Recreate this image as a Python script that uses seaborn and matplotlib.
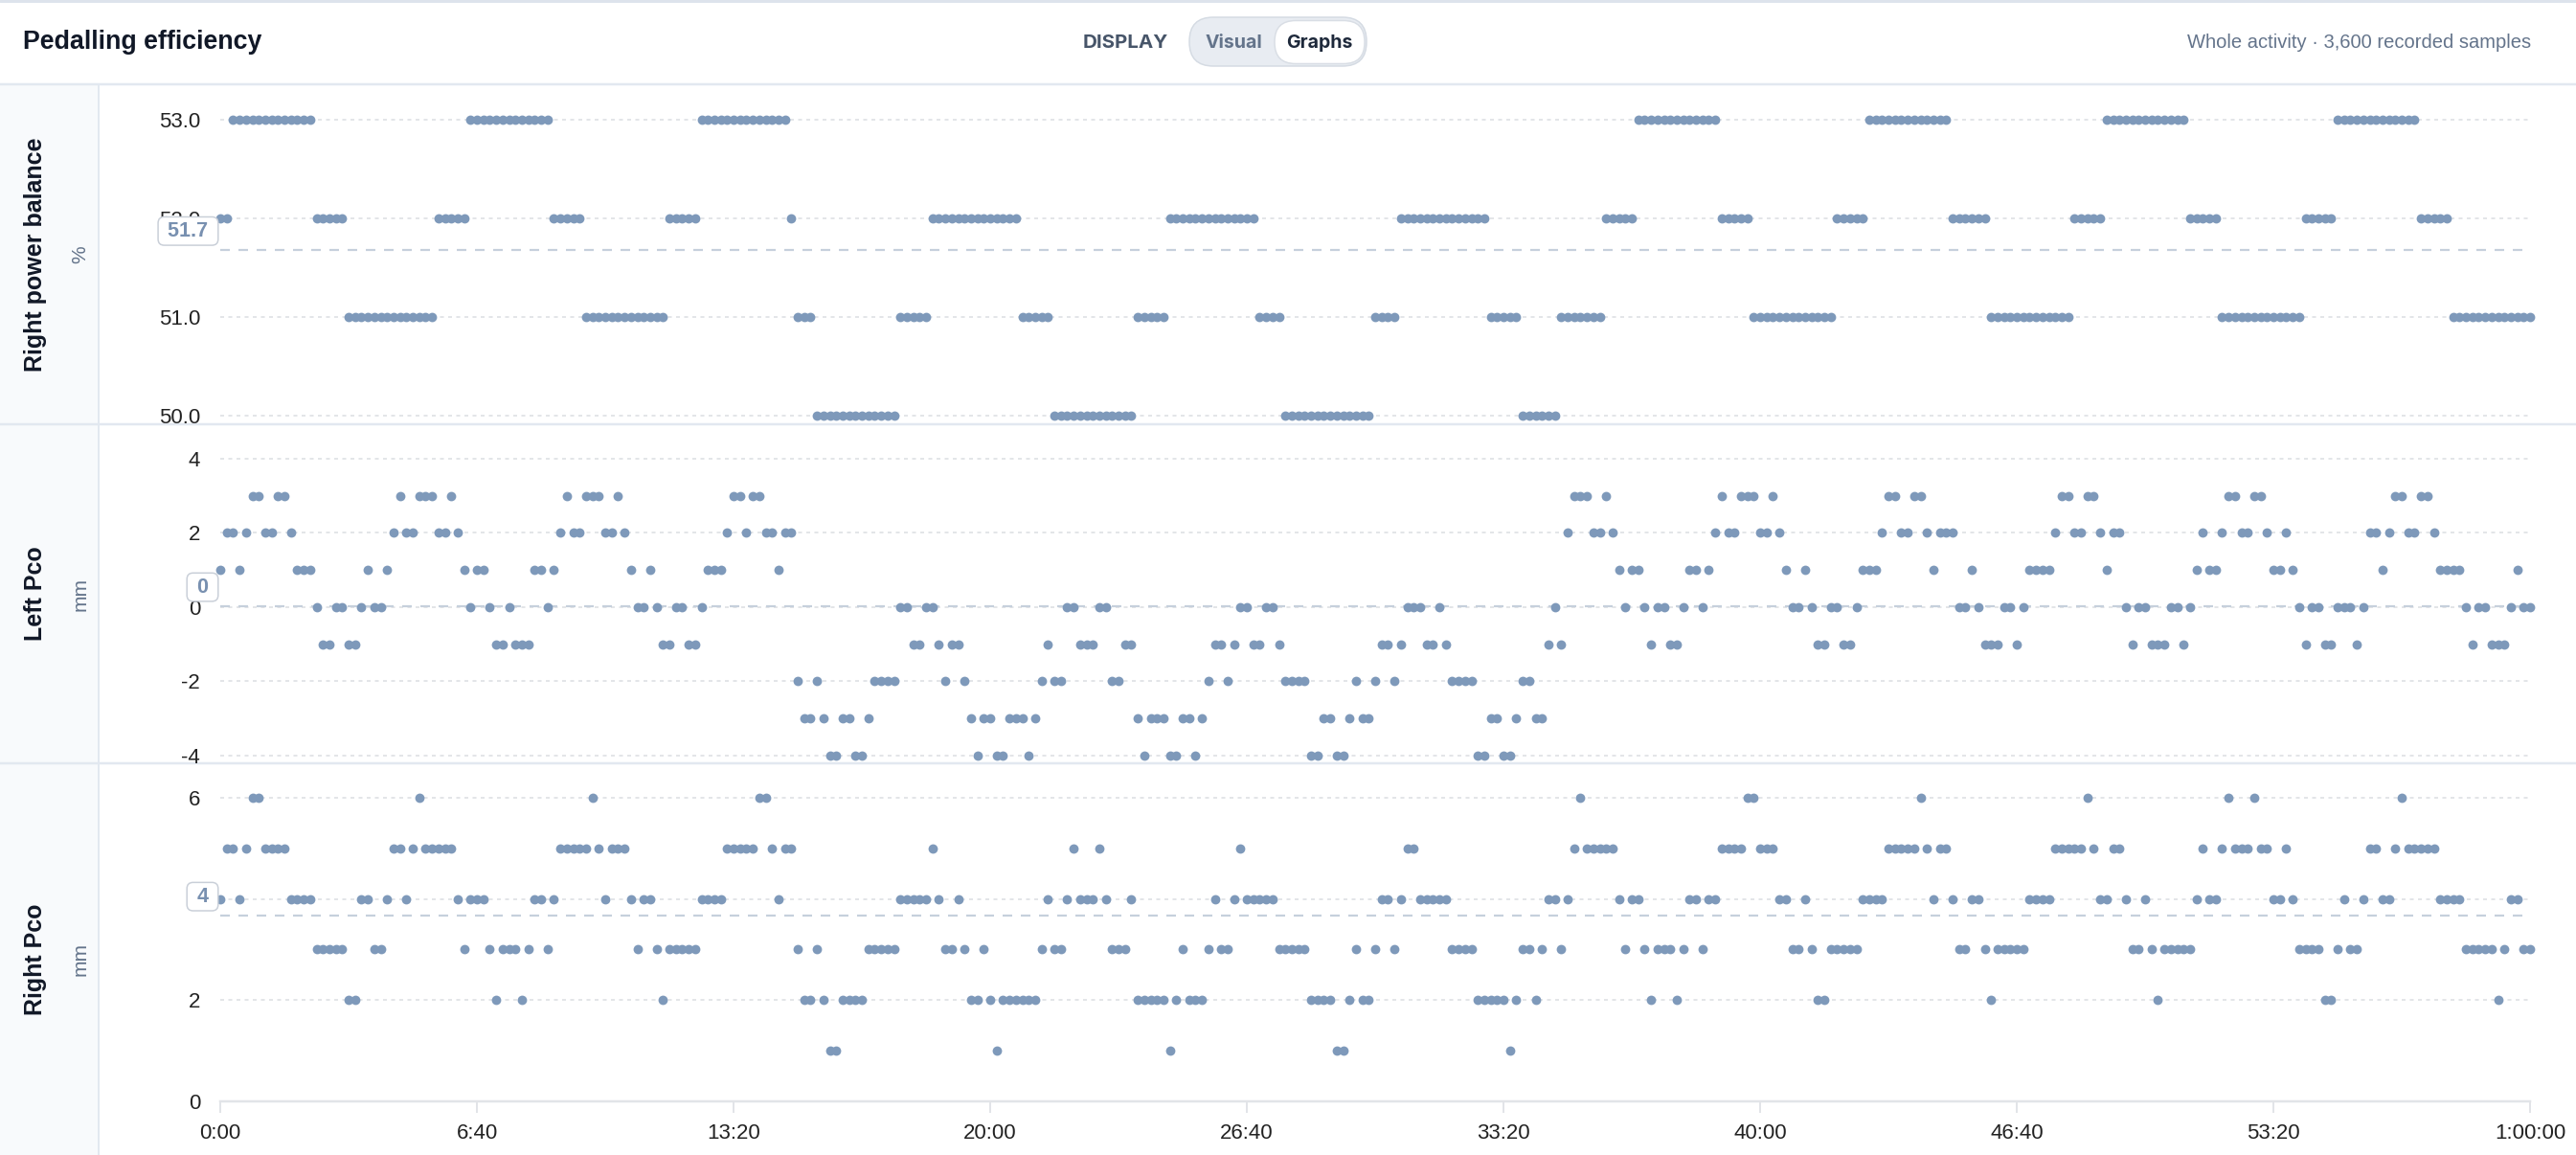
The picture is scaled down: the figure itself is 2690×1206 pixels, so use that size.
import numpy as np
import pandas as pd
import matplotlib
matplotlib.use("Agg")
import matplotlib.pyplot as plt
from matplotlib.patches import FancyBboxPatch, Rectangle
from matplotlib.transforms import blended_transform_factory
import seaborn as sns

# ---- data (one sample every 10 s, 0:00 .. 1:00:00) ----
SAMPLE_STEP_S = 10

# right power balance, stored as runs of equal values
balance_levels = [52, 53, 52, 51, 52, 53, 52, 51, 52, 53, 52, 51, 50, 51, 52, 51, 50, 51, 52, 51, 50,
                  51, 52, 51, 50, 51, 52, 53, 52, 51, 52, 53, 52, 51, 52, 53, 52, 51, 52, 53, 52, 51]
balance_runs = [2, 13, 5, 14, 5, 13, 5, 13, 5, 14, 1, 3, 13, 5, 14, 5, 13, 5, 14, 4, 14,
                4, 14, 5, 6, 7, 5, 13, 5, 13, 5, 13, 6, 13, 5, 13, 5, 13, 5, 13, 5, 13]

left_pco = [
    1, 2, 2, 1, 2, 3, 3, 2, 2, 3,
    3, 2, 1, 1, 1, 0, -1, -1, 0, 0,
    -1, -1, 0, 1, 0, 0, 1, 2, 3, 2,
    2, 3, 3, 3, 2, 2, 3, 2, 1, 0,
    1, 1, 0, -1, -1, 0, -1, -1, -1, 1,
    1, 0, 1, 2, 3, 2, 2, 3, 3, 3,
    2, 2, 3, 2, 1, 0, 0, 1, 0, -1,
    -1, 0, 0, -1, -1, 0, 1, 1, 1, 2,
    3, 3, 2, 3, 3, 2, 2, 1, 2, 2,
    -2, -3, -3, -2, -3, -4, -4, -3, -3, -4,
    -4, -3, -2, -2, -2, -2, 0, 0, -1, -1,
    0, 0, -1, -2, -1, -1, -2, -3, -4, -3,
    -3, -4, -4, -3, -3, -3, -4, -3, -2, -1,
    -2, -2, 0, 0, -1, -1, -1, 0, 0, -2,
    -2, -1, -1, -3, -4, -3, -3, -3, -4, -4,
    -3, -3, -4, -3, -2, -1, -1, -2, -1, 0,
    0, -1, -1, 0, 0, -1, -2, -2, -2, -2,
    -4, -4, -3, -3, -4, -4, -3, -2, -3, -3,
    -2, -1, -1, -2, -1, 0, 0, 0, -1, -1,
    0, -1, -2, -2, -2, -2, -4, -4, -3, -3,
    -4, -4, -3, -2, -2, -3, -3, -1, 0, -1,
    2, 3, 3, 3, 2, 2, 3, 2, 1, 0,
    1, 1, 0, -1, 0, 0, -1, -1, 0, 1,
    1, 0, 1, 2, 3, 2, 2, 3, 3, 3,
    2, 2, 3, 2, 1, 0, 0, 1, 0, -1,
    -1, 0, 0, -1, -1, 0, 1, 1, 1, 2,
    3, 3, 2, 2, 3, 3, 2, 1, 2, 2,
    2, 0, 0, 1, 0, -1, -1, -1, 0, 0,
    -1, 0, 1, 1, 1, 1, 2, 3, 3, 2,
    2, 3, 3, 2, 1, 2, 2, 0, -1, 0,
    0, -1, -1, -1, 0, 0, -1, 0, 1, 2,
    1, 1, 2, 3, 3, 2, 2, 3, 3, 2,
    1, 1, 2, 1, 0, -1, 0, 0, -1, -1,
    0, 0, 0, -1, 0, 2, 2, 1, 2, 3,
    3, 2, 2, 3, 3, 2, 1, 1, 1, 1,
    0, -1, 0, 0, -1, -1, -1, 0, 1, 0,
    0,
]

right_pco = [
    4, 5, 5, 4, 5, 6, 6, 5, 5, 5,
    5, 4, 4, 4, 4, 3, 3, 3, 3, 3,
    2, 2, 4, 4, 3, 3, 4, 5, 5, 4,
    5, 6, 5, 5, 5, 5, 5, 4, 3, 4,
    4, 4, 3, 2, 3, 3, 3, 2, 3, 4,
    4, 3, 4, 5, 5, 5, 5, 5, 6, 5,
    4, 5, 5, 5, 4, 3, 4, 4, 3, 2,
    3, 3, 3, 3, 3, 4, 4, 4, 4, 5,
    5, 5, 5, 5, 6, 6, 5, 4, 5, 5,
    3, 2, 2, 3, 2, 1, 1, 2, 2, 2,
    2, 3, 3, 3, 3, 3, 4, 4, 4, 4,
    4, 5, 4, 3, 3, 4, 3, 2, 2, 3,
    2, 1, 2, 2, 2, 2, 2, 2, 3, 4,
    3, 3, 4, 5, 4, 4, 4, 5, 4, 3,
    3, 3, 4, 2, 2, 2, 2, 2, 1, 2,
    3, 2, 2, 2, 3, 4, 3, 3, 4, 5,
    4, 4, 4, 4, 4, 3, 3, 3, 3, 3,
    2, 2, 2, 2, 1, 1, 2, 3, 2, 2,
    3, 4, 4, 3, 4, 5, 5, 4, 4, 4,
    4, 4, 3, 3, 3, 3, 2, 2, 2, 2,
    2, 1, 2, 3, 3, 2, 3, 4, 4, 3,
    4, 5, 6, 5, 5, 5, 5, 5, 4, 3,
    4, 4, 3, 2, 3, 3, 3, 2, 3, 4,
    4, 3, 4, 4, 5, 5, 5, 5, 6, 6,
    5, 5, 5, 4, 4, 3, 3, 4, 3, 2,
    2, 3, 3, 3, 3, 3, 4, 4, 4, 4,
    5, 5, 5, 5, 5, 6, 5, 4, 5, 5,
    4, 3, 3, 4, 4, 3, 2, 3, 3, 3,
    3, 3, 4, 4, 4, 4, 5, 5, 5, 5,
    5, 6, 5, 4, 4, 5, 5, 4, 3, 3,
    4, 3, 2, 3, 3, 3, 3, 3, 4, 5,
    4, 4, 5, 6, 5, 5, 5, 6, 5, 5,
    4, 4, 5, 4, 3, 3, 3, 3, 2, 2,
    3, 4, 3, 3, 4, 5, 5, 4, 4, 5,
    6, 5, 5, 5, 5, 5, 4, 4, 4, 4,
    3, 3, 3, 3, 3, 2, 3, 4, 4, 3,
    3,
]

x_tick_seconds = [0, 400, 800, 1200, 1600, 2000, 2400, 2800, 3200, 3600]
x_tick_labels = ["0:00", "6:40", "13:20", "20:00", "26:40", "33:20", "40:00", "46:40", "53:20", "1:00:00"]

# ---- layout (pixels of the 2690 x 1206 canvas) ----
W, H, DPI = 2690, 1206, 100
PX = 72 / DPI  # points per pixel
PLOT_L, PLOT_R = 230, 2642
HEADER_B = 88
COL_W = 103

DOT = "#7e99ba"
GRID = "#e3e5e8"
MEAN = "#c6d0dc"
LINE = "#e2e8f0"
SLATE = "#64748b"
INK = "#111827"

sns.set_theme(style="white")
plt.rcParams["font.family"] = ["Liberation Sans", "DejaVu Sans"]
plt.rcParams["lines.scale_dashes"] = False

panels = [
    dict(name="Right power balance", unit="%", values=np.repeat(balance_levels, balance_runs),
         yticks=[50, 51, 52, 53], tick_fmt="{:.1f}", badge_fmt="{:.1f}",
         ylim=(49.91, 53.36), top=HEADER_B, bottom=443, label_bottom=443),
    dict(name="Left Pco", unit="mm", values=np.array(left_pco),
         yticks=[-4, -2, 0, 2, 4], tick_fmt="{:.0f}", badge_fmt="{:.0f}",
         ylim=(-4.21, 4.93), top=443, bottom=797, label_bottom=797),
    dict(name="Right Pco", unit="mm", values=np.array(right_pco),
         yticks=[0, 2, 4, 6], tick_fmt="{:.0f}", badge_fmt="{:.0f}",
         ylim=(0, 6.68), top=797, bottom=1150, label_bottom=H),
]

fig = plt.figure(figsize=(W / DPI, H / DPI), dpi=DPI)
fig.patch.set_facecolor("white")

# background canvas in pixel coordinates (y down)
bg = fig.add_axes([0, 0, 1, 1])
bg.set_xlim(0, W)
bg.set_ylim(H, 0)
bg.axis("off")

bg.add_patch(Rectangle((0, HEADER_B), COL_W, H - HEADER_B, facecolor="#f8fafc", edgecolor="none"))
bg.plot([COL_W, COL_W], [HEADER_B, H], color=LINE, lw=2 * PX)
bg.plot([0, W], [1, 1], color="#dde3ec", lw=3 * PX)
for y in [HEADER_B, 443, 797]:
    bg.plot([0, W], [y, y], color=LINE, lw=2.5 * PX)

# header
bg.text(24, 44, "Pedalling efficiency", fontsize=19.3, fontweight="bold", color=INK, ha="left", va="center")
toggle_font = ["Inter", "Liberation Sans", "DejaVu Sans"]
bg.text(1131, 45, "DISPLAY", fontsize=14.8, fontweight="bold", color="#475569", ha="left", va="center",
        family=toggle_font)
bg.add_patch(FancyBboxPatch((1242, 18), 185, 51, boxstyle="round,pad=0,rounding_size=25",
                            facecolor="#e8ecf2", edgecolor="#d5dbe3", lw=1.5 * PX))
bg.add_patch(FancyBboxPatch((1331, 21.5), 94, 45, boxstyle="round,pad=0,rounding_size=22",
                            facecolor="white", edgecolor="#d9dee5", lw=1.5 * PX))
bg.text(1288, 45, "Visual", fontsize=14, fontweight="bold", color=SLATE, ha="center", va="center",
        family=toggle_font)
bg.text(1378, 45, "Graphs", fontsize=14, fontweight="bold", color="#1e293b", ha="center", va="center",
        family=toggle_font)
bg.text(2643, 45, "Whole activity \u00b7 3,600 recorded samples", fontsize=14.5, color=SLATE,
        ha="right", va="center")

for i, p in enumerate(panels):
    vals = p["values"]
    df = pd.DataFrame({"t": np.arange(len(vals)) * SAMPLE_STEP_S, "v": vals})
    top, bottom = p["top"], p["bottom"]
    ax = fig.add_axes([PLOT_L / W, 1 - bottom / H, (PLOT_R - PLOT_L) / W, (bottom - top) / H])
    ax.set_facecolor("none")

    for y in p["yticks"]:
        ax.axhline(y, color=GRID, lw=2 * PX, ls=(0, (4 * PX, 4.5 * PX)), zorder=1)
    mean = vals.mean()
    ax.axhline(mean, color=MEAN, lw=2.2 * PX, ls=(0, (10 * PX, 9 * PX)), zorder=1.5)

    sns.scatterplot(data=df, x="t", y="v", ax=ax, color=DOT, s=(9.8 * PX) ** 2,
                    linewidth=0, clip_on=False, zorder=3, legend=False)

    ax.set_xlim(0, 3600)
    ax.set_ylim(*p["ylim"])
    ax.set_xlabel("")
    ax.set_ylabel("")
    for s in ax.spines.values():
        s.set_visible(False)
    ax.set_yticks(p["yticks"])
    ax.set_yticklabels([p["tick_fmt"].format(v) for v in p["yticks"]])
    ax.tick_params(axis="y", length=0, pad=21 * PX, labelsize=16, labelcolor="#222222")

    if i == len(panels) - 1:
        ax.spines["bottom"].set_visible(True)
        ax.spines["bottom"].set_color("#e2e4e8")
        ax.spines["bottom"].set_linewidth(2.5 * PX)
        ax.set_xticks(x_tick_seconds)
        ax.set_xticklabels(x_tick_labels)
        ax.tick_params(axis="x", bottom=True, length=12 * PX, width=2 * PX, color="#e2e4e8",
                       pad=11 * PX, labelsize=16, labelcolor="#222222")
    else:
        ax.set_xticks([])

    # mean badge sitting just above the mean line, left of the plot (covers the tick label, as in the app)
    badge = p["badge_fmt"].format(mean)
    if badge in ("-0", "-0.0"):
        badge = badge[1:]
    trans = blended_transform_factory(ax.transAxes, ax.transData)
    ax.annotate(f" {badge} ", xy=(0, mean), xycoords=trans, xytext=(-6.5 * PX, 20 * PX),
                textcoords="offset points", ha="right", va="center", fontsize=15.5,
                fontweight="bold", color="#7890b0", zorder=5, annotation_clip=False,
                bbox=dict(boxstyle="round,pad=0.2,rounding_size=0.3", facecolor="white",
                          edgecolor="#c9cfd8", lw=1.5 * PX))

    # row label in the left column
    yc = (top + p["label_bottom"]) / 2
    bg.text(37, yc, p["name"], rotation=90, fontsize=18, fontweight="bold", color=INK,
            ha="center", va="center")
    bg.text(84, yc, p["unit"], rotation=90, fontsize=15, color=SLATE, ha="center", va="center")

fig.savefig("out.png", dpi=DPI, facecolor="white")
